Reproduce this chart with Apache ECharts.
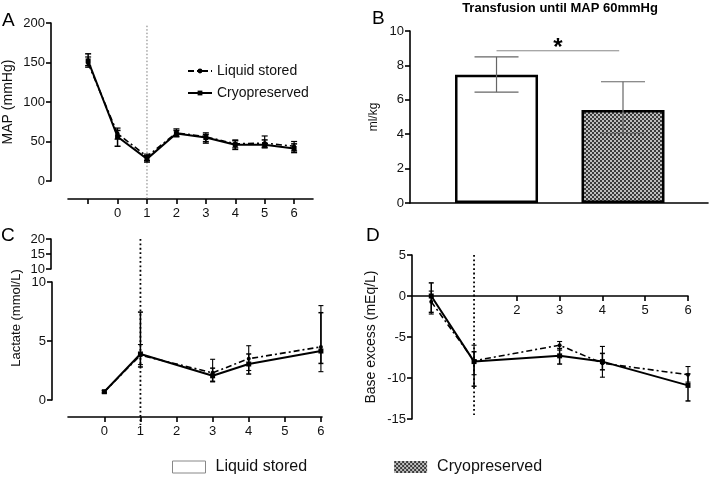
<!DOCTYPE html>
<html><head><meta charset="utf-8">
<script src="https://cdn.jsdelivr.net/npm/echarts@6/dist/echarts.min.js"></script>
<style>html,body{margin:0;padding:0;background:#fff}#c{width:709px;height:479px}</style>
</head><body><div id="c"></div>
<script>
// ---------- Panel A: MAP ----------
const xA = [-1, 0, 1, 2, 3, 4, 5, 6];
const mapLiquid = [149, 60, 31, 61, 56, 47, 48, 44];
const mapCryo = [152, 56, 28, 60, 55, 46, 46, 41];
const mapLiquidLow = [144, 53, 26, 57, 50, 42, 43, 38];
const mapLiquidHigh = [157, 67, 34, 66, 61, 52, 57, 50];
const mapCryoLow = [146, 44, 24, 56, 48, 40, 42, 36];
const mapCryoHigh = [161, 64, 32, 64, 59, 51, 52, 47];
const ticksA = [-1, 0, 1, 2, 3, 4, 5, 6];
const labelsA = [0, 1, 2, 3, 4, 5, 6];
const rangeA = [0, 200];

// ---------- Panel B: transfusion volume ----------
const groupsB = ['Liquid stored', 'Cryopreserved'];
const posB = [1, 2];
const transfusion = [7.45, 5.4];
const transfusionLow = [6.45, 4.05];
const transfusionHigh = [8.5, 7.05];
const sigBracket = [1, 1.97, 8.85, 9.0];

// ---------- Panel C: lactate (broken axis) ----------
const xC = [0, 1, 3, 4, 6];
const lacLiquid = [0.7, 3.8, 2.3, 3.5, 4.5];
const lacCryo = [0.7, 3.9, 2.05, 3.05, 4.15];
const lacLiquidLow = [0.6, 3.0, 1.6, 2.5, 2.4];
const lacLiquidHigh = [0.8, 4.7, 3.45, 4.6, 8.0];
const lacCryoLow = [0.6, 2.8, 1.55, 2.2, 3.1];
const lacCryoHigh = [0.8, 7.45, 2.7, 3.9, 7.4];
const labelsC = [0, 1, 2, 3, 4, 5, 6];
const rangeCLow = [0, 10];
const rangeCHigh = [10, 20];

// ---------- Panel D: base excess ----------
const xD = [0, 1, 3, 4, 6];
const beLiquid = [-0.7, -7.9, -6.0, -8.2, -9.6];
const beCryo = [0, -8.0, -7.3, -8.0, -10.9];
const beLiquidLow = [-2.2, -9.6, -6.6, -9.9, -10.5];
const beLiquidHigh = [0.6, -6.0, -5.55, -6.15, -8.6];
const beCryoLow = [-2.0, -11.0, -8.3, -9.0, -12.8];
const beCryoHigh = [1.6, -6.8, -6.4, -7.0, -9.5];
const labelsD = [2, 3, 4, 5, 6];

const eventX = 1;

const FONT = 'Liberation Sans, Arial, sans-serif';
const LS = () => ({ color: '#000', width: 1.6 });
const CLEAR = () => ({ color: 'rgba(0,0,0,0)', width: 1 });

// checker pattern for cryopreserved bar
const pc = document.createElement('canvas');
pc.width = 4; pc.height = 4;
const g = pc.getContext('2d');
g.fillStyle = '#bdbdbd'; g.fillRect(0, 0, 4, 4);
g.fillStyle = '#3a3a3a'; g.fillRect(0, 0, 2, 2); g.fillRect(2, 2, 2, 2);

function lineSeries(name, idx, xs, ys, liquid) {
  return {
    name, type: 'line', xAxisIndex: idx, yAxisIndex: idx,
    data: xs.map((x, i) => [x, ys[i]]),
    symbol: liquid ? 'circle' : 'rect', symbolSize: liquid ? 4 : 5,
    lineStyle: { color: '#000', width: liquid ? 1.6 : 2, type: liquid ? [6, 3, 2, 3] : 'solid' },
    itemStyle: { color: '#000' }, z: liquid ? 3 : 4, silent: true
  };
}
function errSeries(idx, xs, lo, hi, cap, color, w) {
  return {
    type: 'custom', xAxisIndex: idx, yAxisIndex: idx, silent: true, z: 5,
    data: xs.map((x, i) => [x, lo[i], hi[i]]),
    encode: { x: 0, y: [1, 2] },
    renderItem: function (params, api) {
      const p1 = api.coord([api.value(0), api.value(1)]);
      const p2 = api.coord([api.value(0), api.value(2)]);
      const st = { stroke: color, lineWidth: w, fill: null };
      return { type: 'group', children: [
        { type: 'line', shape: { x1: p1[0], y1: p1[1], x2: p2[0], y2: p2[1] }, style: st },
        { type: 'line', shape: { x1: p1[0] - cap / 2, y1: p1[1], x2: p1[0] + cap / 2, y2: p1[1] }, style: st },
        { type: 'line', shape: { x1: p2[0] - cap / 2, y1: p2[1], x2: p2[0] + cap / 2, y2: p2[1] }, style: st }
      ] };
    }
  };
}
function refLine(idx, top, bottom, color, w, dash) {
  return {
    type: 'line', xAxisIndex: idx, yAxisIndex: idx, silent: true, clip: false, z: 2,
    data: [[eventX, top], [eventX, bottom]], symbol: 'none',
    lineStyle: { color, width: w, type: dash }
  };
}
function yAx(idx, min, max, interval, extra) {
  return Object.assign({
    type: 'value', gridIndex: idx, min, max, interval,
    axisLine: { show: true, onZero: false, lineStyle: LS() },
    axisTick: { show: true, length: 5, lineStyle: LS() },
    axisLabel: { fontSize: 13, color: '#111', fontFamily: FONT, margin: 6 },
    splitLine: { show: false },
    nameLocation: 'middle', nameTextStyle: { fontFamily: FONT, color: '#111', fontSize: 14 }
  }, extra || {});
}
function xAx(idx, min, max, ticks, labels, extra, clearLine) {
  const o = {
    type: 'value', gridIndex: idx, min, max,
    axisLine: { show: true, onZero: false, lineStyle: clearLine ? CLEAR() : LS() },
    axisTick: { show: !!ticks, length: 5, lineStyle: LS() },
    axisLabel: { show: !!labels, fontSize: 13, color: '#111', fontFamily: FONT, margin: 8 },
    splitLine: { show: false }
  };
  if (ticks) o.axisTick.customValues = ticks;
  if (labels) o.axisLabel.customValues = labels;
  return Object.assign(o, extra || {});
}

const chart = echarts.init(document.getElementById('c'), null, { renderer: 'canvas' });
chart.setOption({
  animation: false,
  textStyle: { fontFamily: FONT },
  grid: [
    { left: 50, top: 23, width: 263, height: 158 },   // 0 A data (y axis at left edge)
    { left: 410, top: 31, width: 298, height: 172 },  // 1 B
    { left: 52, top: 282, width: 270, height: 118 },  // 2 C main data
    { left: 51, top: 239, width: 271, height: 30 },   // 3 C upper segment
    { left: 412, top: 255, width: 276, height: 164 }, // 4 D
    { left: 68, top: 23, width: 245, height: 158 },   // 5 A x-axis line only
    { left: 68, top: 282, width: 254, height: 118 }   // 6 C x-axis line only
  ],
  xAxis: [
    xAx(0, -2.262, 6.642, ticksA, labelsA, { offset: 18 }, true),
    xAx(1, 0.316, 2.672, null, null),
    xAx(2, -1.45, 6.03, labelsC, labelsC, { offset: 17 }, true),
    xAx(3, -1.45, 6.03, null, null, {}, true),
    xAx(4, -0.45, 6, labelsD, labelsD, { offset: -123 }),
    xAx(5, 0, 1, null, null, { offset: 18 }),
    xAx(6, 0, 1, null, null, { offset: 17 })
  ],
  yAxis: [
    yAx(0, rangeA[0], rangeA[1], 50, { name: 'MAP (mmHg)', nameGap: 36 }),
    yAx(1, 0, 10, 2, { name: 'ml/kg', nameGap: 30, nameTextStyle: { fontFamily: FONT, color: '#111', fontSize: 12 } }),
    yAx(2, rangeCLow[0], rangeCLow[1], 5),
    yAx(3, rangeCHigh[0], rangeCHigh[1], 5),
    yAx(4, -15, 5, 5, { name: 'Base excess (mEq/L)', nameGap: 34 }),
    yAx(5, 0, 1, 1, { show: false }),
    yAx(6, 0, 1, 1, { show: false })
  ],
  legend: [
    {
      data: ['Liquid stored', 'Cryopreserved'], orient: 'vertical', left: 187, top: 64, padding: 0,
      itemWidth: 24, itemHeight: 6, itemGap: 8,
      textStyle: { fontSize: 14, color: '#111', fontFamily: FONT }
    },
    {
      data: [
        { name: 'Liquid stored B', itemStyle: { borderColor: '#888', borderWidth: 1 } },
        { name: 'Cryopreserved B', itemStyle: { borderWidth: 0 } }
      ],
      formatter: n => n.replace(/ B$/, ''),
      icon: 'rect', left: 172, top: 459, padding: 0, itemWidth: 33, itemHeight: 12, itemGap: 87,
      textStyle: { fontSize: 16, color: '#111', fontFamily: FONT, padding: [0, 0, 0, 5] }
    }
  ],
  graphic: [
    { type: 'text', left: 2, top: 11, style: { text: 'A', font: '19px ' + FONT, fill: '#000' } },
    { type: 'text', left: 372, top: 9, style: { text: 'B', font: '19px ' + FONT, fill: '#000' } },
    { type: 'text', left: 1, top: 226, style: { text: 'C', font: '19px ' + FONT, fill: '#000' } },
    { type: 'text', left: 366, top: 226, style: { text: 'D', font: '19px ' + FONT, fill: '#000' } },
    { type: 'text', x: 560, y: 8, style: { text: 'Transfusion until MAP 60mmHg', font: 'bold 13px ' + FONT, fill: '#000', align: 'center', verticalAlign: 'middle' } },
    { type: 'text', x: 16, y: 318, rotation: Math.PI / 2, style: { text: 'Lactate (mmol/L)', font: '13px ' + FONT, fill: '#111', align: 'center', verticalAlign: 'middle' } }
  ],
  series: [
    lineSeries('Liquid stored', 0, xA, mapLiquid, true),
    lineSeries('Cryopreserved', 0, xA, mapCryo, false),
    errSeries(0, xA, mapLiquidLow, mapLiquidHigh, 6, '#000', 1.2),
    errSeries(0, xA, mapCryoLow, mapCryoHigh, 6, '#000', 1.5),
    refLine(0, 196.6, -22.8, '#777', 1, [1.5, 2]),

    { name: 'Liquid stored B', type: 'bar', xAxisIndex: 1, yAxisIndex: 1, stack: 'b', barWidth: 83,
      data: [[posB[0], transfusion[0]]], itemStyle: { color: '#fff', borderColor: '#000', borderWidth: 2.5 } },
    { name: 'Cryopreserved B', type: 'bar', xAxisIndex: 1, yAxisIndex: 1, stack: 'b', barWidth: 83,
      data: [[posB[1], transfusion[1]]], itemStyle: { color: { image: pc, repeat: 'repeat' }, borderColor: '#000', borderWidth: 2.5 } },
    errSeries(1, posB, transfusionLow, transfusionHigh, 44, '#666', 1.2),
    {
      type: 'custom', xAxisIndex: 1, yAxisIndex: 1, silent: true, z: 6,
      data: [sigBracket], encode: { x: [0, 1], y: [2, 3] },
      renderItem: function (params, api) {
        const a = api.coord([api.value(0), api.value(2)]);
        const b = api.coord([api.value(1), api.value(2)]);
        const s = api.coord([(api.value(0) + api.value(1)) / 2, api.value(3)]);
        return { type: 'group', children: [
          { type: 'line', shape: { x1: a[0], y1: a[1], x2: b[0], y2: b[1] }, style: { stroke: '#888', lineWidth: 1 } },
          { type: 'text', x: s[0], y: s[1], style: { text: '*', font: 'bold 24px ' + FONT, fill: '#000', align: 'center', verticalAlign: 'middle' } }
        ] };
      }
    },

    lineSeries('Liquid stored C', 2, xC, lacLiquid, true),
    lineSeries('Cryopreserved C', 2, xC, lacCryo, false),
    errSeries(2, xC, lacLiquidLow, lacLiquidHigh, 5, '#000', 1.1),
    errSeries(2, xC, lacCryoLow, lacCryoHigh, 5, '#000', 1.5),
    refLine(2, 13.64, -2.12, '#000', 1.8, [1.8, 2.6]),

    lineSeries('Liquid stored D', 4, xD, beLiquid, true),
    lineSeries('Cryopreserved D', 4, xD, beCryo, false),
    errSeries(4, xD, beLiquidLow, beLiquidHigh, 5, '#000', 1.1),
    errSeries(4, xD, beCryoLow, beCryoHigh, 5, '#000', 1.5),
    refLine(4, 5, -14.5, '#000', 1.8, [1.8, 2.6])
  ]
});
</script></body></html>
